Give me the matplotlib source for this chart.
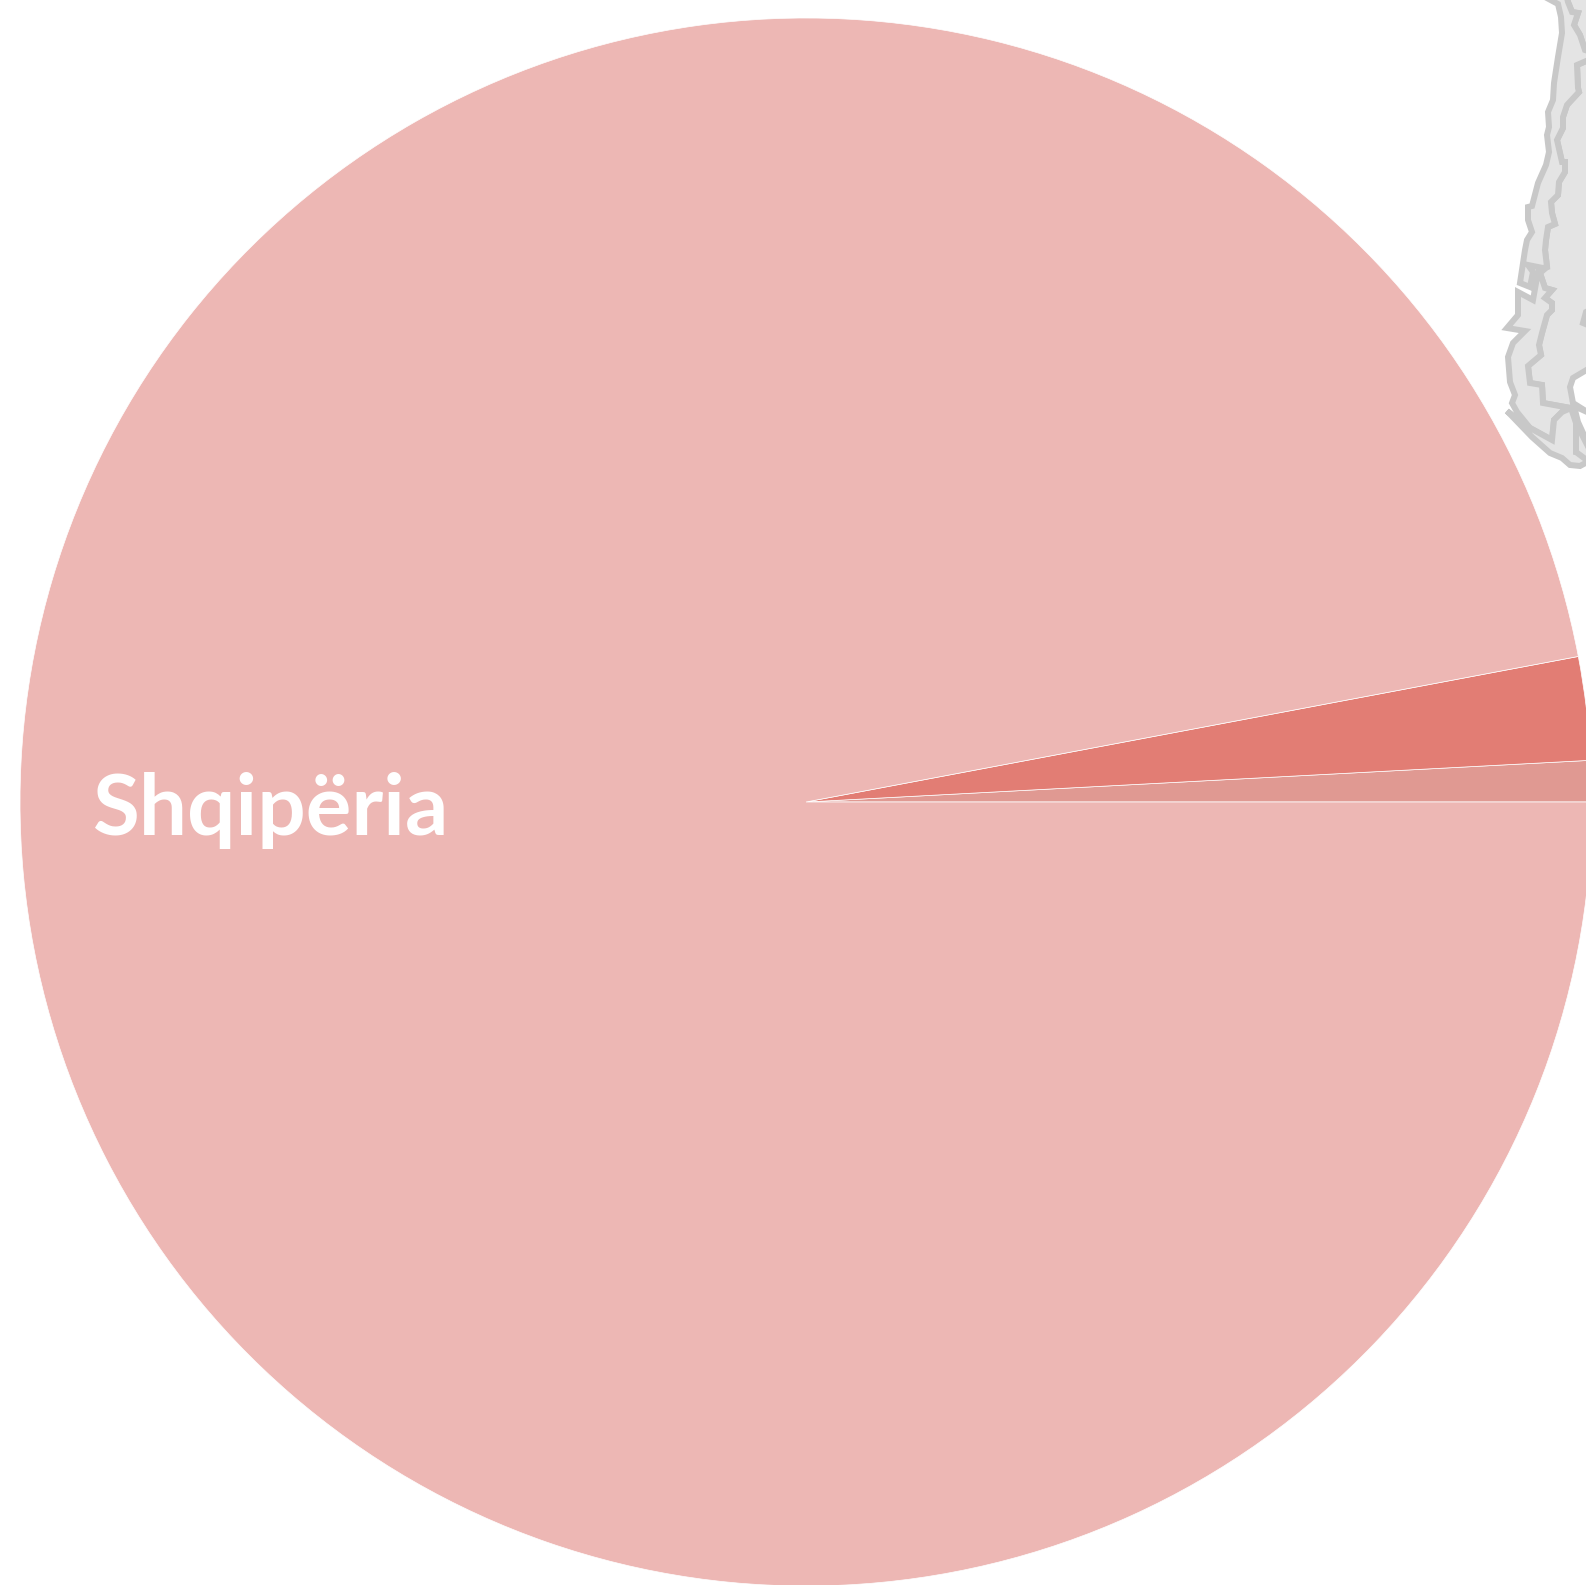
import matplotlib
matplotlib.use("Agg")
import matplotlib.pyplot as plt
from matplotlib.patches import Polygon

W, H = 1586, 1585

# shares of the pie
values = [0.847, 2.125, 97.028]
colors = ["#e09992", "#e27d74", "#edb7b4"]
label = "Shqipëria"

# map outline in picture pixels (x, y from top left)
north_strip = [(1545, -3), (1558, 4), (1561, 17), (1562, 33), (1558, 57), (1554, 83), (1553, 100),
               (1548, 112), (1549, 127), (1547, 135), (1549, 152), (1546, 165), (1538, 183), (1532, 206),
               (1528, 207), (1528, 220), (1532, 232), (1527, 240), (1525, 250), (1520, 283), (1530, 287),
               (1533, 272), (1528, 265), (1543, 268), (1547, 267), (1545, 250), (1546, 240), (1548, 227),
               (1555, 224), (1552, 213), (1551, 202), (1558, 195), (1559, 182), (1565, 172), (1565, 162),
               (1562, 162), (1557, 140), (1563, 128), (1563, 117), (1567, 105), (1579, 92), (1578, 88),
               (1577, 65), (1600, 55), (1585, 50), (1580, 35), (1574, 25), (1578, 13), (1572, 12),
               (1568, 2), (1566, -6)]
south_strip = [(1518, 292), (1533, 300), (1538, 272), (1540, 273), (1545, 288), (1552, 290), (1545, 298),
               (1552, 303), (1552, 310), (1547, 315), (1542, 333), (1539, 345), (1541, 355), (1528, 366),
               (1530, 383), (1542, 385), (1543, 403), (1570, 408), (1562, 412), (1554, 420), (1552, 440),
               (1530, 428), (1517, 412), (1512, 403), (1515, 395), (1510, 382), (1508, 357), (1513, 343),
               (1525, 331), (1507, 328), (1518, 315)]
south_band = [(1507, 411), (1532, 437), (1550, 453), (1562, 458), (1570, 465), (1580, 466), (1600, 455),
              (1576, 452), (1576, 423), (1571, 408), (1562, 412), (1554, 420), (1552, 440), (1530, 428)]
east_part = [(1600, 55), (1577, 65), (1578, 88), (1579, 92), (1567, 105), (1563, 117), (1563, 128),
             (1557, 140), (1562, 162), (1565, 162), (1565, 172), (1559, 182), (1558, 195), (1551, 202),
             (1552, 213), (1555, 224), (1548, 227), (1546, 240), (1545, 250), (1547, 267), (1540, 273),
             (1545, 288), (1552, 290), (1545, 298), (1552, 303), (1552, 310), (1547, 315), (1542, 333),
             (1539, 345), (1541, 355), (1528, 366), (1530, 383), (1542, 385), (1543, 403), (1571, 408),
             (1600, 408)]
north_east = [(1568, 2), (1572, 12), (1578, 13), (1574, 25), (1580, 35), (1585, 50), (1600, 55), (1600, -6),
              (1566, -6)]
bay = [(1600, 362), (1573, 378), (1570, 387), (1573, 403), (1600, 420)]
small_cut = [(1578, 422), (1600, 470), (1600, 418), (1574, 406)]
lake = [(1586, 312), (1583, 323), (1600, 330), (1600, 305)]
triangle = [(1576, 452), (1576, 423), (1600, 470)]

fig = plt.figure(figsize=(W / 100, H / 100), dpi=100)
ax = fig.add_axes([0, 0, 1, 1])
ax.set_xlim(0, W)
ax.set_ylim(0, H)
ax.axis("off")

# the pie is a hair wider than tall in the reference, so it gets its own axes
pie_left, pie_right, pie_top, pie_bottom = 20, 1592, 18, 1586
pie_ax = fig.add_axes([pie_left / W, (H - pie_bottom) / H, (pie_right - pie_left) / W, (pie_bottom - pie_top) / H])
pie_ax.pie(values, colors=colors, startangle=0, radius=1,
           wedgeprops={"edgecolor": "white", "linewidth": 0.5, "clip_on": False})
pie_ax.set_aspect("auto")
pie_ax.set_xlim(-1, 1)
pie_ax.set_ylim(-1, 1)

over = fig.add_axes([0, 0, 1, 1], facecolor="none")
over.set_xlim(0, W)
over.set_ylim(0, H)
over.axis("off")

over.text(92, H - 835, label, color="white", fontsize=61.5, fontweight="bold",
          family=["Lato", "DejaVu Sans"], ha="left", va="baseline")


def flip(points):
    return [(x, H - y) for x, y in points]


for part in [north_east, east_part, north_strip, south_strip, south_band, triangle, lake]:
    over.add_patch(Polygon(flip(part), closed=True, facecolor="#e4e4e4", edgecolor="#c8c8c8",
                           linewidth=4.3, joinstyle="miter", zorder=3))
for part in [bay, small_cut]:
    over.add_patch(Polygon(flip(part), closed=True, facecolor="white", edgecolor="#c8c8c8",
                           linewidth=4.3, joinstyle="miter", zorder=4))

fig.savefig("out.png", dpi=100, facecolor="white")
